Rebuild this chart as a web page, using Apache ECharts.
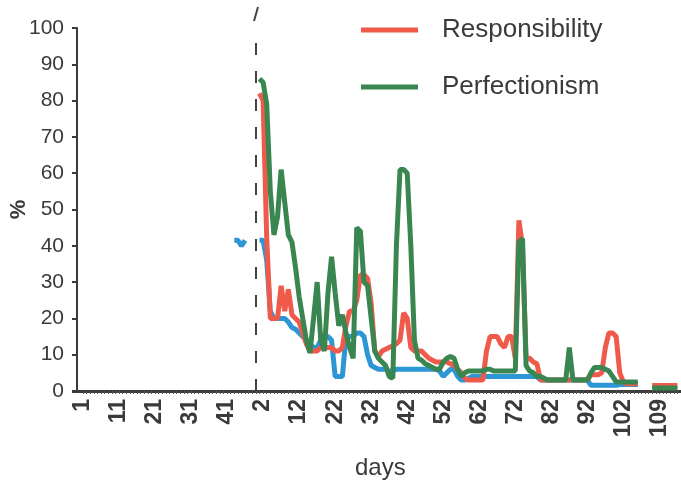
<!DOCTYPE html>
<html><head><meta charset="utf-8">
<script src="https://cdn.jsdelivr.net/npm/echarts@6/dist/echarts.min.js"></script>
<style>html,body{margin:0;padding:0;background:#fff}#c{width:681px;height:482px}</style>
</head><body><div id="c"></div>
<script>
// ---- phases / tick labels ----
const baselineDayCount = 49;      // baseline days 1..49
const treatmentDayCount = 106;    // treatment days 1..106
const gapCount = 3;               // break between treatment and follow-up
const followUpDays = [107, 108, 109, 110, 111, 112, 113, 114, 115];
const xAxisTitle = 'days';
const yAxisTitle = '%';

// ---- values (%) ----
// third (blue) series, baseline: [baseline day, value]
const blueBaselinePoints = [[43, 41.5], [44, 41.5], [45, 40], [46, 41.5]];

const responsibility = [
  82, 80, 42, 20, 20, 20, 29, 22, 28, 21,
  20, 19, 16, 13, 11, 11, 11, 12, 12, 12,
  12, 11, 11, 12, 18, 22, 22, 25, 32, 32,
  31, 24, 11, 9.5, 11, 11.5, 12, 12.5, 13, 14,
  21.5, 20, 12, 11, 11, 11, 10, 9, 8.5, 8,
  8, 8, 8, 7.5, 7, 6, 5, 3.5, 3, 3,
  3, 3, 3, 11, 15, 15, 15, 13, 12, 15,
  15, 9, 47, 40, 9, 9, 8, 7.5, 3, 3,
  3, 3, 3, 3, 3, 3, 3, 3, 3, 3,
  3, 3, 4.5, 4.5, 4.5, 5, 12, 16, 16, 15,
  5, 2.5, 2, 2, 2, 2
];
const perfectionism = [
  86, 85, 79, 55, 43, 48, 61, 52, 43, 41,
  34, 26, 20, 14, 10.5, 20, 30, 14, 11, 27,
  37, 27, 18, 21, 16, 12, 9, 45, 44, 30,
  29, 20, 11, 9, 8, 7, 4, 3.5, 40, 61,
  61, 60, 40, 14, 9, 8.5, 7.5, 7, 6.5, 6,
  6, 8, 9, 9.5, 9, 6, 4, 5, 5.5, 5.5,
  5.5, 5.5, 5.5, 6, 6, 5.5, 5.5, 5.5, 5.5, 5.5,
  5.5, 5.5, 41, 42, 7, 5.5, 5, 4, 4, 3.5,
  3, 3, 3, 3, 3, 3, 12, 3, 3, 3,
  3, 3, 5, 6.5, 6.5, 6.5, 6, 5.5, 4, 2.5,
  2.5, 2.5, 2.5, 2.5, 2.5, 2.5
];
const blueSeries = [
  41.5, 41.5, 36, 22, 20, 20, 20, 20, 19, 17.5,
  17, 16, 15, 14, 13, 12, 12, 14, 15, 15,
  14, 4, 4, 4, 15, 15, 15, 16, 16, 15,
  10, 7, 6.5, 6, 6, 6, 5.5, 5.5, 6, 6,
  6, 6, 6, 6, 6, 6, 6, 6, 6, 6,
  5.5, 4, 5, 6, 6, 4, 3, 3, 3.5, 4,
  4, 4, 4, 4, 4, 4, 4, 4, 4, 4,
  4, 4, 4, 4, 4, 4, 4, 4, 3, 3,
  3, 3, 3, 3, 3, 3, 3, 3, 3, 3,
  3, 3, 1.6, 1.6, 1.6, 1.6, 1.6, 1.6, 1.6, 1.6,
  1.8, 1.8, 1.8, 1.8, 1.8, 1.8
];
const responsibilityFollowUp = [1.5, 1.5, 1.5, 1.5, 1.5, 1.5, 1.5, 1.5, null];
const perfectionismFollowUp  = [0.8, 0.8, 0.8, 0.8, 0.8, 0.8, 0.8, 0.8, null];
const blueFollowUp           = [null, null, null, null, null, null, null, null, null];

// ---- build category axis + full series ----
const categories = [];
for (let d = 1; d <= baselineDayCount; d++) categories.push(String(d));
for (let d = 1; d <= treatmentDayCount; d++) categories.push(String(d));
for (let g = 0; g < gapCount; g++) categories.push('');
followUpDays.forEach(d => categories.push(String(d)));

const nulls = n => new Array(n).fill(null);
const blueBaseline = nulls(baselineDayCount);
blueBaselinePoints.forEach(([d, v]) => { blueBaseline[d - 1] = v; });

const full = (base, treat, fu) => base.concat(treat, nulls(gapCount), fu);
const respData = full(nulls(baselineDayCount), responsibility, responsibilityFollowUp);
const perfData = full(nulls(baselineDayCount), perfectionism, perfectionismFollowUp);
const blueData = full(blueBaseline, blueSeries, blueFollowUp);
const phaseChangeIndex = baselineDayCount - 1;

const txt = '#3a3a3a';
const font = 'Liberation Sans, Arial, Helvetica, sans-serif';
const chart = echarts.init(document.getElementById('c'));
chart.setOption({
  animation: false,
  backgroundColor: '#ffffff',
  textStyle: { fontFamily: font },
  title: {
    text: xAxisTitle, left: 350, top: 451,
    textStyle: { fontSize: 24, fontWeight: 'normal', color: txt, fontFamily: font }
  },
  grid: { left: 83, right: 0, top: 28, bottom: 91, containLabel: false, outerBoundsMode: 'none' },
  legend: {
    data: ['Responsibility', 'Perfectionism'],
    orient: 'vertical', left: 356, top: 12,
    icon: 'rect', itemWidth: 57, itemHeight: 5, itemGap: 31,
    textStyle: { fontSize: 26, color: txt, fontFamily: font, padding: [0, 0, 0, 19] }
  },
  xAxis: {
    type: 'category', data: categories, boundaryGap: false,
    axisLine: { lineStyle: { color: txt, width: 3 } },
    axisTick: { show: true, interval: 0, length: 3, lineStyle: { color: '#555', width: 1 } },
    axisLabel: { interval: 9, rotate: 90, fontSize: 23, fontWeight: 'bold', color: txt, margin: 8, fontFamily: font },
    splitLine: { show: false }
  },
  yAxis: {
    type: 'value', min: 0, max: 100, interval: 10, offset: 6,
    axisLine: { show: true, lineStyle: { color: txt, width: 2 } },
    axisTick: { show: true, length: 5, lineStyle: { color: txt, width: 2 } },
    axisLabel: { fontSize: 21, color: txt, margin: 13, fontFamily: font },
    splitLine: { show: false },
    name: yAxisTitle, nameLocation: 'middle', nameRotate: 90, nameGap: 47, nameMoveOverlap: false,
    nameTextStyle: { fontSize: 22, fontWeight: 'bold', color: txt, fontFamily: font }
  },
  graphic: [
    { type: 'line', shape: { x1: 72, y1: 391.5, x2: 84, y2: 391.5 }, style: { stroke: txt, lineWidth: 3 } },
    { type: 'line', shape: { x1: 254, y1: 21, x2: 258, y2: 7 }, style: { stroke: '#444', lineWidth: 2 } }
  ],
  series: [
    {
      name: 'Series C', type: 'line', data: blueData, showSymbol: false, symbol: 'none',
      connectNulls: false, lineStyle: { color: '#2d96d4', width: 5 }, itemStyle: { color: '#2d96d4' },
      markLine: {
        silent: true, symbol: 'none', label: { show: false },
        lineStyle: { type: [12, 16], color: '#444', width: 2 },
        data: [{ xAxis: phaseChangeIndex }]
      }
    },
    {
      name: 'Responsibility', type: 'line', data: respData, showSymbol: false, symbol: 'none',
      connectNulls: false, lineStyle: { color: '#ef5a4b', width: 5 }, itemStyle: { color: '#ef5a4b' }
    },
    {
      name: 'Perfectionism', type: 'line', data: perfData, showSymbol: false, symbol: 'none',
      connectNulls: false, lineStyle: { color: '#3a8650', width: 5 }, itemStyle: { color: '#3a8650' }
    }
  ]
});
</script></body></html>
